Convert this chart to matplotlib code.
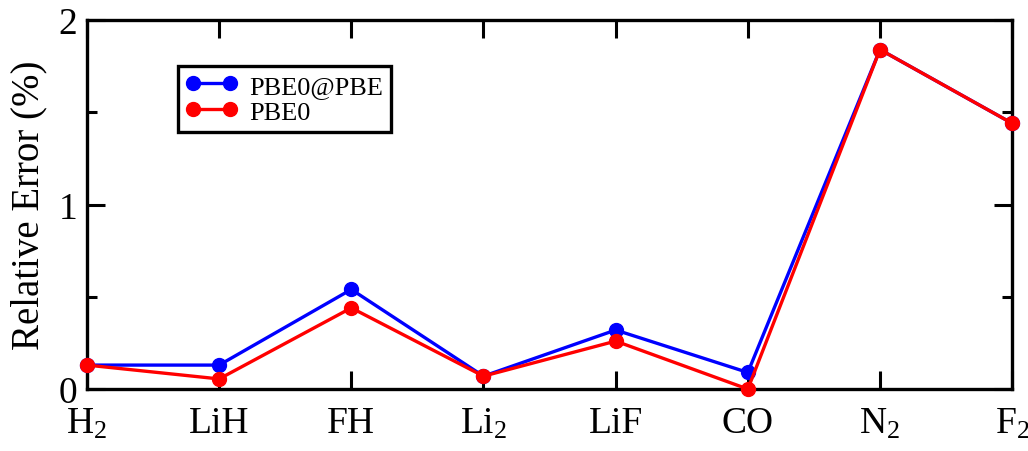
import numpy as np
import matplotlib.pyplot as plt
from matplotlib.ticker import MultipleLocator

plt.rcParams['font.family'] = ['Liberation Serif', 'DejaVu Serif']
plt.rcParams['mathtext.fontset'] = 'custom'
plt.rcParams['mathtext.rm'] = 'Liberation Serif'
plt.rcParams['mathtext.it'] = 'Liberation Serif:italic'

molecules = [r'H$_2$', 'LiH', 'FH', r'Li$_2$', 'LiF', 'CO', r'N$_2$', r'F$_2$']
pbe0_at_pbe = [0.13, 0.13, 0.54, 0.07, 0.32, 0.09, 1.84, 1.44]
pbe0 = [0.13, 0.055, 0.44, 0.07, 0.26, 0.0, 1.84, 1.44]

x = np.arange(len(molecules))

fig = plt.figure(figsize=(10.28, 4.52), dpi=100)
ax = fig.add_axes([0.0846, 0.137, 0.9, 0.8165])

ax.plot(x, pbe0_at_pbe, color='#0000ff', lw=2.4, marker='o', ms=10,
        label='PBE0@PBE', clip_on=False, zorder=3)
ax.plot(x, pbe0, color='#ff0000', lw=2.4, marker='o', ms=10,
        label='PBE0', clip_on=False, zorder=4)

ax.set_xlim(0, len(molecules) - 1)
ax.set_ylim(0, 2)
ax.set_xticks(x)
ax.set_xticklabels(molecules)
ax.yaxis.set_major_locator(MultipleLocator(1))
ax.yaxis.set_minor_locator(MultipleLocator(0.5))

ax.tick_params(axis='both', which='both', direction='in', top=True, right=True,
               labelsize=27, width=2.2)
ax.tick_params(axis='both', which='major', length=13)
ax.tick_params(axis='x', which='major', pad=12)
ax.tick_params(axis='y', which='major', pad=7)
ax.tick_params(axis='y', which='minor', length=7)
for s in ax.spines.values():
    s.set_linewidth(2.4)

ax.set_ylabel('Relative Error (%)', fontsize=28, labelpad=8)

leg = ax.legend(loc='upper left', bbox_to_anchor=(0.098, 0.875), fontsize=19,
                frameon=True, fancybox=False, edgecolor='black', framealpha=1,
                numpoints=2, handlelength=2.0, handletextpad=0.4, borderpad=0.3,
                labelspacing=0.1, borderaxespad=0)
leg.get_frame().set_linewidth(2.4)

fig.savefig('out.png', dpi=100)
